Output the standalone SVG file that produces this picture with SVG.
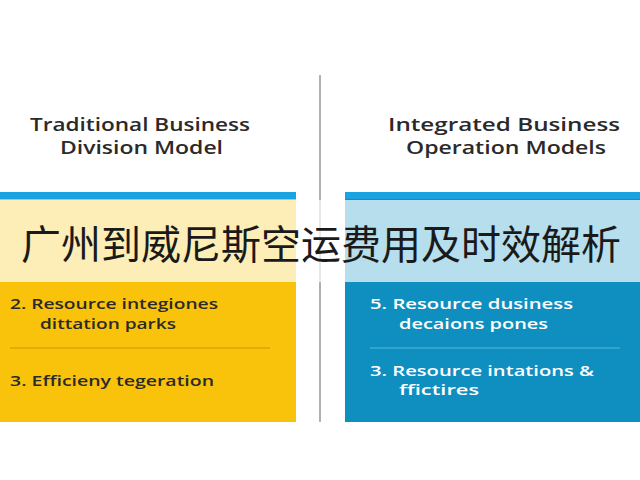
<svg xmlns="http://www.w3.org/2000/svg" width="640" height="480" viewBox="0 0 640 480">
<style>
.t{font-family:"Open Sans","Liberation Sans",sans-serif;font-size:18px;font-weight:600;fill:#2a2a2a}
.i{font-family:"Open Sans","Liberation Sans",sans-serif;font-size:15px;font-weight:600;fill:#2a2a2a}
.w{font-family:"Open Sans","Liberation Sans",sans-serif;font-size:15px;font-weight:600;fill:#ffffff}
</style>
<rect width="640" height="480" fill="#ffffff"/>
<line x1="320" y1="75" x2="320" y2="422" stroke="#b0b0b0" stroke-width="2"/>
<g id="left">
<text class="t" x="30" y="131" textLength="220" lengthAdjust="spacingAndGlyphs">Traditional Business</text>
<text class="t" x="60" y="154" textLength="163" lengthAdjust="spacingAndGlyphs">Division Model</text>
<rect x="0" y="192" width="296" height="7" fill="#1aa3e0"/>
<rect x="0" y="199" width="296" height="223" fill="#f8c30a"/>
<text class="i" x="10" y="309" textLength="208" lengthAdjust="spacingAndGlyphs">2.  Resource integiones</text>
<text class="i" x="40" y="329" textLength="136" lengthAdjust="spacingAndGlyphs">dittation parks</text>
<line x1="10" y1="348" x2="270" y2="348" stroke="#c89a00" stroke-width="1"/>
<text class="i" x="10" y="386" textLength="204" lengthAdjust="spacingAndGlyphs">3.  Efficieny tegeration</text>
</g>
<g id="right">
<text class="t" x="388" y="131" textLength="232" lengthAdjust="spacingAndGlyphs">Integrated Business</text>
<text class="t" x="406" y="154" textLength="200" lengthAdjust="spacingAndGlyphs">Operation Models</text>
<rect x="345" y="192" width="295" height="7" fill="#1aa3e0"/>
<rect x="345" y="199" width="295" height="223" fill="#0f8fbf"/>
<text class="w" x="370" y="309" textLength="203" lengthAdjust="spacingAndGlyphs">5.  Resource dusiness</text>
<text class="w" x="399" y="329" textLength="149" lengthAdjust="spacingAndGlyphs">decaions pones</text>
<line x1="370" y1="348" x2="620" y2="348" stroke="#5ab8d8" stroke-width="1"/>
<text class="w" x="370" y="376" textLength="224" lengthAdjust="spacingAndGlyphs">3.  Resource intations &amp;</text>
<text class="w" x="399" y="395" textLength="80" lengthAdjust="spacingAndGlyphs">ffictires</text>
</g>
<g id="connectors"></g>
<rect x="0" y="200" width="640" height="82" fill="#ffffff" opacity="0.7"/>
<text x="321" y="259" font-family="'Noto Sans CJK SC',sans-serif" font-size="40" fill="#1a1a1a" text-anchor="middle">广州到威尼斯空运费用及时效解析</text>
</svg>
